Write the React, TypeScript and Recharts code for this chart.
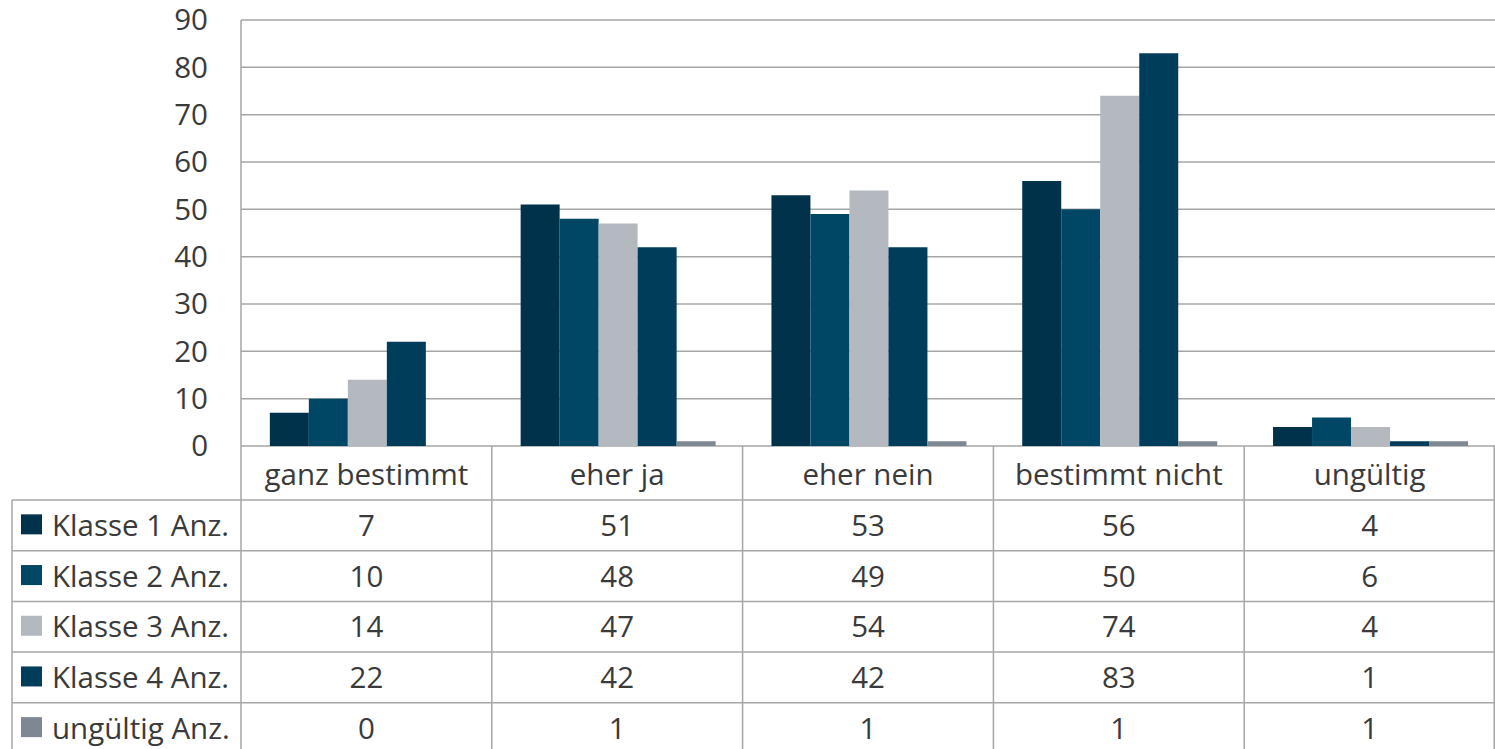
import { Bar, BarChart, CartesianGrid, XAxis, YAxis } from "recharts";

const categories = ["ganz bestimmt", "eher ja", "eher nein", "bestimmt nicht", "ungültig"];
const seriesNames = ["Klasse 1 Anz.", "Klasse 2 Anz.", "Klasse 3 Anz.", "Klasse 4 Anz.", "ungültig Anz."];
const klasse1 = [7, 51, 53, 56, 4];
const klasse2 = [10, 48, 49, 50, 6];
const klasse3 = [14, 47, 54, 74, 4];
const klasse4 = [22, 42, 42, 83, 1];
const ungueltig = [0, 1, 1, 1, 1];
const yTicks = [0, 10, 20, 30, 40, 50, 60, 70, 80, 90];

const seriesValues = [klasse1, klasse2, klasse3, klasse4, ungueltig];
const seriesColors = ["#00324c", "#004766", "#b4b9bf", "#003d5b", "#7d8893"];

const rows = categories.map((name, i) => ({
  name,
  s0: klasse1[i],
  s1: klasse2[i],
  s2: klasse3[i],
  s3: klasse4[i],
  s4: ungueltig[i],
}));

const WIDTH = 1495;
const HEIGHT = 749;
const PLOT_LEFT = 241;
const TABLE_LEFT = 12;
const COL_W = (WIDTH - PLOT_LEFT) / categories.length;
const HEADER_H = 54;
const ROW_H = 50.7;
const LINE = "#a6a6a6";
const TEXT = "#3a3a3a";
const FONT = 29.5;

function TableColumn({ x, y, payload, index }: any) {
  const left = x - COL_W / 2;
  const right = left + COL_W;
  const bodyTop = y + HEADER_H;
  const lastIndex = categories.length - 1;
  const cat = categories.indexOf(payload.value);

  return (
    <g>
      <line x1={left} y1={y} x2={left} y2={HEIGHT} stroke={LINE} strokeWidth={1.5} />
      {index === lastIndex ? (
        <line x1={right - 0.75} y1={y} x2={right - 0.75} y2={HEIGHT} stroke={LINE} strokeWidth={1.5} />
      ) : null}
      <text x={x} y={y + 27} textAnchor="middle" dominantBaseline="central" fill={TEXT} fontSize={FONT}>
        {payload.value}
      </text>
      {seriesValues.map((values, r) => {
        const top = bodyTop + r * ROW_H;
        return (
          <g key={r}>
            <line x1={left} y1={top} x2={right} y2={top} stroke={LINE} strokeWidth={1.5} />
            <text x={x} y={top + ROW_H / 2 - 1} textAnchor="middle" dominantBaseline="central" fill={TEXT} fontSize={FONT}>
              {values[cat]}
            </text>
          </g>
        );
      })}

      {/* legend column lives left of the first category */}
      {index === 0 ? (
        <g>
          <line x1={TABLE_LEFT} y1={bodyTop} x2={TABLE_LEFT} y2={HEIGHT} stroke={LINE} strokeWidth={1.5} />
          {seriesNames.map((label, r) => {
            const top = bodyTop + r * ROW_H;
            return (
              <g key={label}>
                <line x1={TABLE_LEFT} y1={top} x2={left} y2={top} stroke={LINE} strokeWidth={1.5} />
                <rect x={21} y={top + ROW_H / 2 - 11} width={21} height={20} fill={seriesColors[r]} />
                <text x={52} y={top + ROW_H / 2 - 1} dominantBaseline="central" fill={TEXT} fontSize={FONT}>
                  {label}
                </text>
              </g>
            );
          })}
        </g>
      ) : null}
    </g>
  );
}

export default function App() {
  return (
    <div
      style={{
        position: "absolute",
        left: 0,
        top: 0,
        width: WIDTH,
        height: HEIGHT,
        background: "#ffffff",
        fontFamily: "'Open Sans', sans-serif",
      }}
    >
      <BarChart
        width={WIDTH}
        height={HEIGHT}
        data={rows}
        margin={{ top: 20, right: 0, bottom: 0, left: 0 }}
        barGap={0}
        barCategoryGap="11.5%"
      >
        <CartesianGrid vertical={false} stroke={LINE} strokeWidth={1.5} />
        <XAxis
          dataKey="name"
          height={303}
          axisLine={false}
          tickLine={false}
          tickSize={0}
          tickMargin={0}
          interval={0}
          tick={<TableColumn />}
        />
        <YAxis
          width={PLOT_LEFT}
          domain={[0, 90]}
          ticks={yTicks}
          axisLine={{ stroke: LINE, strokeWidth: 1.5 }}
          tickLine={false}
          tickSize={0}
          tickMargin={33}
          tick={{ fill: TEXT, fontSize: FONT }}
        />
        {seriesNames.map((label, i) => (
          <Bar key={label} dataKey={`s${i}`} name={label} fill={seriesColors[i]} isAnimationActive={false} />
        ))}
      </BarChart>
    </div>
  );
}
